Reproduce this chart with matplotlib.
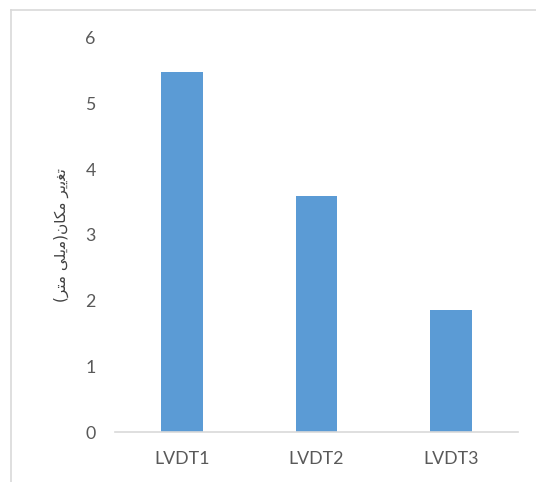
import matplotlib
matplotlib.use('Agg')
import matplotlib.pyplot as plt
from matplotlib.lines import Line2D

# LVDT displacement readings (mm)
sensors = ['LVDT1', 'LVDT2', 'LVDT3']
displacement = [5.48, 3.60, 1.86]
y_ticks = [0, 1, 2, 3, 4, 5, 6]

# "تغییر مکان(میلی متر)" written in shaped presentation forms, visual order,
# since matplotlib does no Arabic shaping or bidi on its own
y_label = '(\uFEAE\uFE98\uFEE3 \uFBFD\uFEE0\uFBFE\uFEE3)\uFEE5\uFE8E\uFB91\uFEE3 \uFEAE\uFBFE\uFBFE\uFED0\uFE97'

plt.rcParams['font.family'] = ['Lato', 'DejaVu Sans']

fig = plt.figure(figsize=(5.36, 4.82), dpi=100)
ax = fig.add_axes([0.2146, 0.1037, 0.7518, 0.8175])

x = range(len(sensors))
ax.bar(x, displacement, width=0.3125, color='#5B9BD5', zorder=2)

ax.set_xlim(-0.5, len(sensors) - 0.5)
ax.set_ylim(0, 6)
ax.set_xticks(list(x))
ax.set_xticklabels(sensors)
ax.set_yticks(y_ticks)
ax.set_yticklabels([str(v) for v in y_ticks])

for side in ['top', 'right', 'left']:
    ax.spines[side].set_visible(False)
ax.spines['bottom'].set_color('#D9D9D9')
ax.spines['bottom'].set_linewidth(1.2)

ax.tick_params(axis='both', length=0, labelsize=12.8, colors='#595959')
ax.tick_params(axis='y', pad=14)
ax.tick_params(axis='x', pad=14)

ax.set_ylabel(y_label, family=['DejaVu Sans'], fontsize=11, color='#404040',
              labelpad=12)

# chart area frame (top and left edges)
fig.add_artist(Line2D([10.5 / 536, 10.5 / 536], [0, 1 - 9.5 / 482],
                      transform=fig.transFigure, color='#D9D9D9', lw=1.2))
fig.add_artist(Line2D([10.5 / 536, 1], [1 - 9.5 / 482, 1 - 9.5 / 482],
                      transform=fig.transFigure, color='#D9D9D9', lw=1.2))

fig.savefig('out.png', dpi=100)
